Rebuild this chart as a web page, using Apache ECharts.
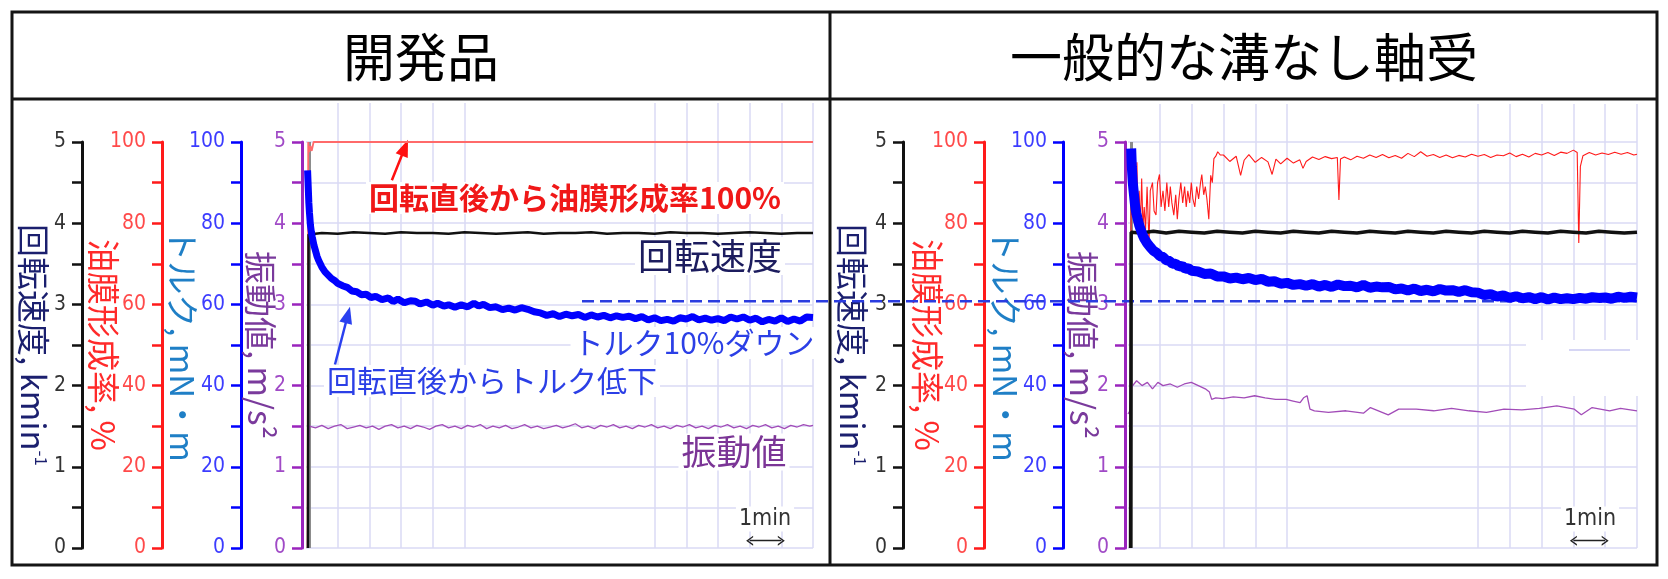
<!DOCTYPE html>
<html><head><meta charset="utf-8">
<script src="https://cdn.jsdelivr.net/npm/echarts@6/dist/echarts.min.js"></script>
<style>html,body{margin:0;padding:0;background:#fff}#c{width:1668px;height:579px}</style>
</head><body><div id="c"></div>
<script>
// ---------------- data (time in minutes) ----------------
const panelTitles = ['開発品', '一般的な溝なし軸受'];
const speedTicks = [0, 1, 2, 3, 4, 5];
const pctTicks = [0, 20, 40, 60, 80, 100];
const vGridMinutes = [1, 2, 3, 4, 5, 11, 12, 13, 14, 15, 16];
const startMarkMinute = 0.1;
const torque10Down = 60.8;
const scaleBarMinutes = [14, 15];
const scaleLabel = '1min';
const nameSpeed = '回転速度, kmin{sup|-1}';
const nameOil = '油膜形成率, %';
const nameTorque = 'トルク, mN・m';
const nameVib = '振動値, m/s²';
const noteOil = '回転直後から油膜形成率100%';
const noteSpeed = '回転速度';
const noteDown = 'トルク10%ダウン';
const noteTorque = '回転直後からトルク低下';
const noteVib = '振動値';

// 開発品
const leftSpeed = [[0.06,0],[0.08,3.86],[0.5,3.88],[1,3.87],[1.5,3.89],[2,3.88],[2.5,3.87],[3,3.89],[3.5,3.88],[4,3.88],[4.5,3.87],[5,3.89],[5.5,3.88],[6,3.87],[6.5,3.88],[7,3.89],[7.5,3.87],[8,3.88],[8.5,3.88],[9,3.89],[9.5,3.87],[10,3.88],[10.5,3.88],[11,3.87],[11.5,3.89],[12,3.88],[12.5,3.88],[13,3.87],[13.5,3.88],[14,3.89],[14.5,3.88],[15,3.87],[15.5,3.88],[16,3.88]];
const leftOil = [[0.05,0],[0.07,100],[0.1,97.5],[0.14,99],[0.18,97.8],[0.24,100],[16,100]];
const leftTorque = [[0.05,93],[0.07,89],[0.09,85],[0.11,82.5],[0.14,79.5],[0.17,77.8],[0.2,76.5],[0.25,74.6],[0.3,73.2],[0.35,71.8],[0.4,70.8],[0.45,70],[0.5,69.2],[0.6,68],[0.7,67.2],[0.8,66.4],[0.9,65.9],[1.0,65.2],[1.15,64.6],[1.3,64.2],[1.45,63.3],[1.6,63.1],[1.75,62.4],[1.9,62.5],[2.05,61.7],[2.2,62.0],[2.4,61.2],[2.6,61.6],[2.75,60.7],[2.9,61.3],[3.1,60.4],[3.3,60.9],[3.45,60.8],[3.6,60.1],[3.8,60.6],[4.0,59.8],[4.15,60.3],[4.35,59.6],[4.5,59.9],[4.7,59.3],[4.9,59.9],[5.1,59.4],[5.3,60.3],[5.45,59.6],[5.6,60.0],[5.8,59.2],[6.0,59.4],[6.2,58.7],[6.4,59.1],[6.6,58.6],[6.8,59.2],[7.0,58.8],[7.2,58.2],[7.4,57.9],[7.6,57.3],[7.8,57.7],[8.0,57.0],[8.2,57.6],[8.4,57.2],[8.6,57.5],[8.8,56.8],[9.0,57.4],[9.2,56.9],[9.4,57.3],[9.6,56.7],[9.8,57.2],[10.0,56.8],[10.2,57.1],[10.4,56.5],[10.6,57.0],[10.8,56.2],[11.0,56.7],[11.2,56.0],[11.4,56.3],[11.6,55.9],[11.8,56.7],[12.0,56.4],[12.2,57.0],[12.4,56.2],[12.6,56.6],[12.8,56.1],[13.0,56.5],[13.2,56.0],[13.4,56.9],[13.6,56.4],[13.8,56.9],[14.0,56.1],[14.2,56.6],[14.4,55.7],[14.6,56.3],[14.8,55.9],[15.0,56.7],[15.2,55.8],[15.4,56.4],[15.6,55.9],[15.8,56.9],[16.0,56.8]];
const leftVib = [[0.05,0],[0.06,1.62],[0.08,1.25],[0.1,1.5],[0.3,1.48],[0.5,1.51],[0.7,1.47],[0.9,1.5],[1.1,1.52],[1.3,1.47],[1.5,1.49],[1.7,1.51],[1.9,1.48],[2.1,1.5],[2.3,1.46],[2.5,1.5],[2.7,1.52],[2.9,1.48],[3.1,1.5],[3.3,1.47],[3.5,1.51],[3.7,1.49],[3.9,1.46],[4.1,1.5],[4.3,1.52],[4.5,1.48],[4.7,1.5],[4.9,1.47],[5.1,1.51],[5.3,1.49],[5.5,1.52],[5.7,1.47],[5.9,1.5],[6.1,1.48],[6.3,1.51],[6.5,1.47],[6.7,1.49],[6.9,1.52],[7.1,1.48],[7.3,1.5],[7.5,1.47],[7.7,1.49],[7.9,1.51],[8.1,1.48],[8.3,1.5],[8.5,1.53],[8.7,1.48],[8.9,1.5],[9.1,1.47],[9.3,1.51],[9.5,1.49],[9.7,1.52],[9.9,1.48],[10.1,1.5],[10.3,1.47],[10.5,1.51],[10.7,1.49],[10.9,1.52],[11.1,1.48],[11.3,1.5],[11.5,1.47],[11.7,1.51],[11.9,1.49],[12.1,1.52],[12.3,1.48],[12.5,1.5],[12.7,1.47],[12.9,1.51],[13.1,1.49],[13.3,1.52],[13.5,1.48],[13.7,1.5],[13.9,1.47],[14.1,1.51],[14.3,1.49],[14.5,1.52],[14.7,1.48],[14.9,1.5],[15.1,1.47],[15.3,1.51],[15.5,1.49],[15.7,1.52],[15.9,1.5],[16,1.51]];

// 一般的な溝なし軸受
const rightSpeed = [[0.08,0],[0.1,3.89],[0.4,3.88],[0.8,3.9],[1.2,3.88],[1.6,3.9],[2,3.89],[2.4,3.88],[2.8,3.9],[3.2,3.89],[3.6,3.88],[4,3.9],[4.4,3.89],[4.8,3.88],[5.2,3.9],[5.6,3.89],[6,3.88],[6.4,3.9],[6.8,3.89],[7.2,3.88],[7.6,3.9],[8,3.89],[8.4,3.88],[8.8,3.9],[9.2,3.89],[9.6,3.88],[10,3.9],[10.4,3.89],[10.8,3.88],[11.2,3.9],[11.6,3.89],[12,3.88],[12.4,3.9],[12.8,3.89],[13.2,3.88],[13.6,3.9],[14,3.89],[14.4,3.88],[14.8,3.9],[15.2,3.89],[15.6,3.88],[16,3.89]];
const rightOil = [[0.08,0],[0.1,95],[0.13,82],[0.16,96],[0.19,80],[0.22,93],[0.25,85],[0.28,95],[0.31,82],[0.35,88],[0.39,79],[0.43,91],[0.47,79],[0.51,84],[0.55,78],[0.6,89],[0.66,74.7],[0.7,88],[0.77,90],[0.82,83],[0.88,82],[0.93,90],[0.99,92],[1.04,84],[1.1,88],[1.16,83],[1.22,90],[1.28,84],[1.33,89],[1.38,85],[1.44,82],[1.5,87],[1.55,81],[1.6,86],[1.66,90],[1.72,85],[1.78,89],[1.83,84],[1.88,88],[1.94,85],[1.99,90],[2.04,86],[2.1,84],[2.16,89],[2.22,86],[2.28,90],[2.32,92],[2.38,87],[2.43,89],[2.48,86],[2.54,81],[2.6,91.8],[2.65,90],[2.7,95.9],[2.76,96.5],[2.82,97.6],[2.9,96.8],
 [3.0,96.8],[3.2,95.2],[3.4,96.5],[3.54,91.8],[3.65,95.5],[3.8,96.9],[4.0,95.0],[4.2,96.2],[4.4,95.1],[4.53,92.0],[4.65,95.8],[4.8,94.6],[5.0,96.0],[5.2,94.8],[5.4,95.6],[5.5,93.5],[5.6,95.2],[5.8,96.3],[6.0,95.7],[6.2,96.4],[6.4,95.9],[6.58,96.2],[6.63,85.7],[6.68,95.8],[6.8,96.3],[7.0,95.6],[7.2,96.5],[7.4,96.0],[7.6,96.8],[7.8,96.2],[8.0,96.9],[8.2,96.1],[8.4,96.7],[8.6,96.0],[8.8,97.2],[9.0,96.4],[9.2,97.6],[9.4,96.5],[9.6,96.9],[9.8,96.2],[10.0,96.8],[10.2,96.1],[10.4,96.7],[10.6,96.3],[10.8,97.0],[11.0,96.5],[11.2,96.9],[11.4,96.2],[11.6,96.8],[11.8,96.6],[12.0,97.3],[12.2,96.4],[12.4,97.0],[12.6,96.3],[12.8,97.2],[13.0,96.8],[13.2,97.4],[13.4,96.7],[13.6,97.5],[13.8,97.2],[14.0,98.0],[14.12,97.4],[14.17,75.1],[14.22,94],[14.3,96.6],[14.5,97.4],[14.7,96.8],[14.9,97.3],[15.1,96.9],[15.3,97.5],[15.5,97.0],[15.7,97.4],[15.9,96.8],[16.0,97.0]];
const rightTorque = [[0.1,98.4],[0.12,94],[0.15,90],[0.18,87.6],[0.22,84.5],[0.26,82.5],[0.3,81.2],[0.35,79.6],[0.4,78.4],[0.45,77.3],[0.5,76.4],[0.6,75.1],[0.7,74.1],[0.8,73.2],[0.9,72.7],[1.0,71.9],[1.1,71.7],[1.2,70.9],[1.3,70.7],[1.4,70.0],[1.5,70.0],[1.6,69.3],[1.7,69.5],[1.8,68.8],[1.9,68.9],[2.0,68.3],[2.2,68.1],[2.4,67.5],[2.6,67.6],[2.8,66.9],[3.0,66.9],[3.2,66.4],[3.4,66.6],[3.6,66.2],[3.8,66.5],[4.0,66.0],[4.2,66.3],[4.4,65.6],[4.6,65.7],[4.8,65.1],[5.0,65.3],[5.2,64.8],[5.4,65.0],[5.6,64.6],[5.8,65.0],[6.0,64.4],[6.2,64.8],[6.4,64.3],[6.6,64.9],[6.8,64.5],[7.0,64.6],[7.2,64.2],[7.4,64.8],[7.6,64.1],[7.8,64.4],[8.0,64.2],[8.2,64.3],[8.4,63.7],[8.6,63.9],[8.8,63.4],[9.0,63.9],[9.2,63.3],[9.4,63.6],[9.6,63.2],[9.8,63.8],[10.0,63.4],[10.2,63.5],[10.4,63.1],[10.6,63.5],[10.8,63.0],[11.0,62.9],[11.2,62.3],[11.4,62.5],[11.6,61.9],[11.8,62.2],[12.0,61.6],[12.2,62.0],[12.4,61.5],[12.6,61.8],[12.8,61.3],[13.0,61.8],[13.2,61.2],[13.4,61.7],[13.6,61.3],[13.8,61.5],[14.0,61.3],[14.2,61.6],[14.4,61.4],[14.6,61.8],[14.8,61.6],[15.0,61.7],[15.2,61.4],[15.4,61.9],[15.6,61.6],[15.8,61.9],[16.0,61.7]];
const rightVib = [[0.0,1.65],[0.06,1.69],[0.11,1.98],[0.27,2.06],[0.44,2.0],[0.61,2.04],[0.77,1.96],[0.94,2.04],[1.1,2.0],[1.33,2.02],[1.55,1.98],[1.77,2.02],[1.99,2.04],[2.21,2.0],[2.43,1.96],[2.56,1.92],[2.63,1.83],[2.76,1.85],[2.98,1.84],[3.31,1.86],[3.65,1.85],[3.98,1.875],[4.31,1.85],[4.64,1.83],[4.97,1.83],[5.19,1.81],[5.41,1.79],[5.52,1.85],[5.63,1.875],[5.72,1.71],[5.86,1.69],[6.3,1.67],[6.85,1.69],[7.4,1.66],[7.62,1.73],[8.18,1.64],[8.51,1.71],[9.06,1.71],[9.61,1.69],[10.17,1.72],[10.72,1.69],[11.27,1.67],[11.82,1.71],[12.38,1.70],[12.93,1.72],[13.48,1.75],[14.03,1.71],[14.25,1.64],[14.59,1.73],[15.14,1.69],[15.48,1.72],[16.0,1.69]];

// ---------------- styling ----------------
const CJK = '"Noto Sans CJK JP", "Noto Sans", sans-serif';
const NUM = '"Liberation Sans Narrow", "DejaVu Sans Condensed", "Liberation Sans", sans-serif';
const C = {
  speed: '#111111', speedLabel: '#333333', speedName: '#1b1f6e',
  oil: '#ff1a1a', oilLabel: '#ff4a4a', oilName: '#ff2a2a', oilLeft: '#ff6a6a',
  torque: '#0000ff', torqueLabel: '#3c3cff', torqueName: '#1f7fc6',
  vib: '#9a24bd', vibLabel: '#a04ac6', vibName: '#7a3a9c', vibLine: '#a24cb8',
  grid: '#dadaf4'
};
const NAME_SIZE = 33;

function yAx(grid, max, interval, offset, color, labelColor, name, nameColor, nameGap, ticks, split) {
  return {
    type: 'value', gridIndex: grid, position: 'left', offset: offset,
    min: 0, max: max, interval: interval,
    axisLine: { show: true, onZero: false, lineStyle: { color: color, width: 3 } },
    axisTick: { show: true, length: 10, lineStyle: { color: color, width: 2.5 } },
    axisLabel: { show: true, margin: 16, color: labelColor, fontSize: 21, fontFamily: NUM,
      formatter: v => ticks.indexOf(v) >= 0 ? String(v) : '' },
    splitLine: { show: split, lineStyle: { color: C.grid, width: 1.5 } },
    name: name, nameLocation: 'middle', nameRotate: -90, nameGap: nameGap, nameMoveOverlap: false,
    nameTextStyle: { color: nameColor, fontSize: NAME_SIZE, fontFamily: CJK,
      rich: { sup: { fontSize: 17, color: nameColor, fontFamily: CJK, verticalAlign: 'top', lineHeight: NAME_SIZE } } }
  };
}
function panelYAxes(grid, off) {
  return [
    yAx(grid, 5, 0.5, off[0], C.speed, C.speedLabel, nameSpeed, C.speedName, off[4], speedTicks, false),
    yAx(grid, 100, 10, off[1], C.oil, C.oilLabel, nameOil, C.oilName, off[5], pctTicks, false),
    yAx(grid, 100, 10, off[2], C.torque, C.torqueLabel, nameTorque, C.torqueName, off[6], pctTicks, false),
    yAx(grid, 5, 0.5, off[3], C.vib, C.vibLabel, nameVib, C.vibName, off[7], speedTicks, true)
  ];
}
function hiddenY(grid, max) { return { type: 'value', gridIndex: grid, min: 0, max: max, show: false }; }
function hiddenX(grid, max) { return { type: 'value', gridIndex: grid, min: 0, max: max, show: false }; }

const chevron = 'path://M0,10 L5,0 L10,10 L8.4,10 L5,3.2 L1.6,10 Z';

function dataLine(name, x, y, data, color, width, z, extra) {
  return Object.assign({ type: 'line', name: name, xAxisIndex: x, yAxisIndex: y, data: data,
    showSymbol: false, symbol: 'none', silent: true, z: z,
    lineStyle: { color: color, width: width, join: 'bevel' } }, extra || {});
}
function lattice(x, y) {
  return { type: 'line', xAxisIndex: x, yAxisIndex: y, data: [[0, 0]], symbol: 'none', silent: true, z: 1,
    lineStyle: { opacity: 0 },
    markLine: { silent: true, symbol: 'none', animation: false, label: { show: false },
      lineStyle: { color: C.grid, width: 1.5, type: 'solid' },
      data: vGridMinutes.map(m => ({ xAxis: m })) } };
}
function startMark(x, y) {
  return { type: 'line', xAxisIndex: x, yAxisIndex: y, data: [[0, 0]], symbol: 'none', silent: true, z: 3,
    lineStyle: { opacity: 0 },
    markLine: { silent: true, symbol: 'none', animation: false, label: { show: false },
      lineStyle: { color: '#8c8c8c', width: 3, type: 'solid' },
      data: [{ xAxis: startMarkMinute }] } };
}
function scaleBar() {
  return { silent: true, animation: false, symbol: [chevron, chevron], symbolSize: [10, 7],
    label: { show: false }, lineStyle: { color: '#222', width: 1.3, type: 'solid' },
    data: [[{ coord: [scaleBarMinutes[0], 0.09] }, { coord: [scaleBarMinutes[1], 0.09] }]] };
}
function arrow(color, from, to) {
  return { silent: true, animation: false, symbol: ['none', 'triangle'], symbolSize: [13, 17],
    label: { show: false }, lineStyle: { color: color, width: 2.5, type: 'solid' },
    data: [[{ coord: from }, { coord: to }]] };
}

function note(text, x, y, font, color) {
  return { type: 'text', x: x, y: y, z: 20,
    style: { text: text, font: font, fill: color, align: 'center', verticalAlign: 'middle',
      textAlign: 'center', textVerticalAlign: 'middle', backgroundColor: '#fff', padding: [1, 3] } };
}

const option = {
  animation: false,
  backgroundColor: '#ffffff',
  grid: [
    { left: 306, right: 855, top: 142, bottom: 31 },
    { left: 1128, right: 31, top: 142, bottom: 31 },
    { left: 306, right: 855, top: 103, bottom: 31 },
    { left: 1128, right: 31, top: 104, bottom: 31 },
    { left: 582, right: 31, top: 142, bottom: 31 }
  ],
  xAxis: [hiddenX(0, 16), hiddenX(1, 16), hiddenX(2, 16), hiddenX(3, 16), hiddenX(4, 1)],
  yAxis: [].concat(
    panelYAxes(0, [224, 144, 65, 4, 32, 42, 42, 25]),
    panelYAxes(1, [225, 144, 65, 3, 34, 40, 41, 26]),
    [hiddenY(2, 1), hiddenY(3, 1), hiddenY(4, 100)]
  ),
  series: [
    lattice(2, 8), lattice(3, 9),
    startMark(0, 3), startMark(1, 7),
    // left panel
    dataLine('leftVib', 0, 3, leftVib, C.vibLine, 1.3, 30, { markLine: scaleBar() }),
    dataLine('leftOil', 0, 1, leftOil, C.oilLeft, 1.8, 31, { markLine: arrow('#ff1010', [2.71, 90.6], [3.12, 98.6]) }),
    dataLine('leftSpeed', 0, 0, leftSpeed, C.speed, 2.5, 32),
    dataLine('leftTorque', 0, 2, leftTorque, C.torque, 7, 33, { markLine: arrow('#2a40f0', [0.915, 45.2], [1.32, 57.4]) }),
    // right panel
    dataLine('rightVib', 1, 7, rightVib, C.vibLine, 1.3, 30, { markLine: scaleBar() }),
    dataLine('rightOil', 1, 5, rightOil, C.oil, 1.1, 31),
    dataLine('rightSpeed', 1, 4, rightSpeed, C.speed, 3.5, 32),
    dataLine('rightTorque', 1, 6, rightTorque, C.torque, 10, 33),
    // torque 10% down reference line (spans both panels)
    dataLine('down10', 4, 10, [[0, torque10Down], [1, torque10Down]], '#2a3ce0', 2.5, 25,
      { lineStyle: { color: '#2a3ce0', width: 2.5, type: [12, 6] } })
  ],
  graphic: [
    { type: 'rect', z: 5, shape: { x: 12, y: 12, width: 1645, height: 553 }, style: { fill: 'none', stroke: '#151515', lineWidth: 3 } },
    { type: 'line', z: 5, shape: { x1: 12, y1: 99, x2: 1657, y2: 99 }, style: { stroke: '#151515', lineWidth: 3 } },
    { type: 'line', z: 5, shape: { x1: 830, y1: 12, x2: 830, y2: 565 }, style: { stroke: '#151515', lineWidth: 3 } },
    { type: 'text', x: 421, y: 57, z: 6, style: { text: panelTitles[0], font: '52px ' + CJK, fill: '#000', align: 'center', verticalAlign: 'middle', textAlign: 'center', textVerticalAlign: 'middle' } },
    { type: 'text', x: 1244, y: 57, z: 6, style: { text: panelTitles[1], font: '52px ' + CJK, fill: '#000', align: 'center', verticalAlign: 'middle', textAlign: 'center', textVerticalAlign: 'middle' } },
    note(noteOil, 575, 198, 'bold 30px ' + CJK, '#f01818'),
    note(noteSpeed, 710, 256, '36px ' + CJK, '#1c1c5e'),
    note(noteDown, 694, 343, '30px ' + CJK, '#2b3fe6'),
    note(noteTorque, 492, 381, '30px ' + CJK, '#2b3fe6'),
    note(noteVib, 734, 452, '35px ' + CJK, '#7b3596'),
    note(scaleLabel, 765, 519, '23px ' + NUM, '#333'),
    note(scaleLabel, 1590, 519, '23px ' + NUM, '#333'),
    { type: 'rect', z: 20, shape: { x: 1526, y: 340, width: 114, height: 56 }, style: { fill: '#fff' } },
    { type: 'line', z: 21, shape: { x1: 1569, y1: 350, x2: 1630, y2: 350 }, style: { stroke: '#c8c8f0', lineWidth: 1.5 } }
  ]
};
const chart = echarts.init(document.getElementById('c'), null, { renderer: 'canvas' });
chart.setOption(option);
</script></body></html>
